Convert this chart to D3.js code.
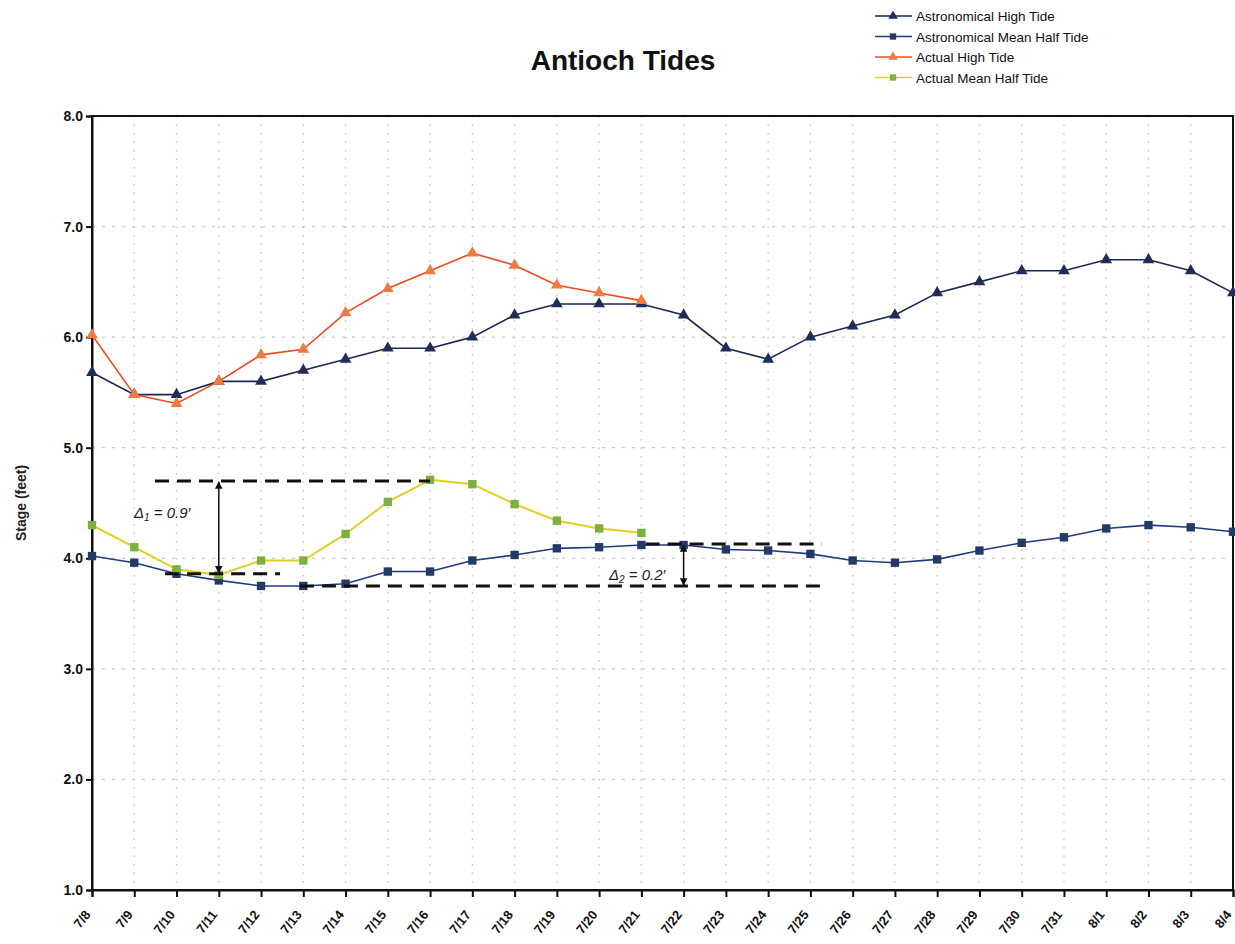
<!DOCTYPE html>
<html><head><meta charset="utf-8">
<script src="https://cdn.jsdelivr.net/npm/d3@7"></script>
<style>body{margin:0;background:#fff;font-family:Arial,"Liberation Sans",sans-serif;}</style>
</head><body>
<svg id="c" width="1235" height="944"></svg>
<script>
const dates = ["7/8","7/9","7/10","7/11","7/12","7/13","7/14","7/15","7/16","7/17","7/18","7/19","7/20","7/21","7/22","7/23","7/24","7/25","7/26","7/27","7/28","7/29","7/30","7/31","8/1","8/2","8/3","8/4"];
const astroHigh = [5.68,5.48,5.48,5.6,5.6,5.7,5.8,5.9,5.9,6.0,6.2,6.3,6.3,6.3,6.2,5.9,5.8,6.0,6.1,6.2,6.4,6.5,6.6,6.6,6.7,6.7,6.6,6.4];
const astroMean = [4.02,3.96,3.86,3.8,3.75,3.75,3.77,3.88,3.88,3.98,4.03,4.09,4.1,4.12,4.12,4.08,4.07,4.04,3.98,3.96,3.99,4.07,4.14,4.19,4.27,4.3,4.28,4.24];
const actualHigh = [6.02,5.48,5.4,5.6,5.84,5.89,6.22,6.44,6.6,6.76,6.65,6.47,6.4,6.33];
const actualMean = [4.3,4.1,3.9,3.85,3.98,3.98,4.22,4.51,4.71,4.67,4.49,4.34,4.27,4.23];
const yTicks = [1,2,3,4,5,6,7,8];
const seriesNames = ["Astronomical High Tide","Astronomical Mean Half Tide","Actual High Tide","Actual Mean Half Tide"];
// annotations: levels in feet, extents in date-index units
const delta1 = {sub:"1", text:" = 0.9\u2032", top:4.7, bottom:3.86, at:3, topFrom:1.49, topTo:8.0, botFrom:1.73, botTo:4.45};
const delta2 = {sub:"2", text:" = 0.2\u2032", top:4.13, bottom:3.75, at:14, topFrom:13.1, topTo:17.27, botFrom:4.92, botTo:17.27};

const svg = d3.select("#c");
const m = {l:92, r:1233, t:116, b:890};
const x = d3.scalePoint().domain(dates).range([m.l, m.r]);
const xi = d3.scaleLinear().domain([0, dates.length-1]).range([m.l, m.r]);
const y = d3.scaleLinear().domain([1,8]).range([m.b, m.t]);

// gridlines
const g = svg.append("g");
g.selectAll(".vg").data(dates.slice(1)).join("line")
  .attr("x1",d=>x(d)).attr("x2",d=>x(d)).attr("y1",m.t).attr("y2",m.b)
  .attr("stroke","#b8c8c0").attr("stroke-width",1.3).attr("stroke-dasharray","1.5,7");
g.selectAll(".hg").data(yTicks.slice(1,-1)).join("line")
  .attr("x1",m.l).attr("x2",m.r).attr("y1",d=>y(d)).attr("y2",d=>y(d))
  .attr("stroke","#c8d0c0").attr("stroke-width",1.3).attr("stroke-dasharray","3,7");

// frame
svg.append("rect").attr("x",m.l).attr("y",m.t).attr("width",m.r-m.l).attr("height",m.b-m.t)
  .attr("fill","none").attr("stroke","#111").attr("stroke-width",2);

// axes
const ya = svg.append("g").attr("transform",`translate(${m.l},0)`)
  .call(d3.axisLeft(y).tickValues(yTicks).tickFormat(d3.format(".1f")).tickSize(6));
ya.select(".domain").attr("stroke","#111").attr("stroke-width",2);
ya.selectAll(".tick line").attr("stroke","#111").attr("stroke-width",2);
ya.selectAll("text").attr("font-size",14).attr("font-weight","bold").attr("fill","#111").attr("font-family","Arial");

const xa = svg.append("g").attr("transform",`translate(0,${m.b})`)
  .call(d3.axisBottom(x).tickSize(7));
xa.select(".domain").attr("stroke","#111").attr("stroke-width",2);
xa.selectAll(".tick line").attr("stroke","#111").attr("stroke-width",2);
xa.selectAll("text").attr("font-size",13).attr("font-weight","bold").attr("fill","#111").attr("font-family","Arial")
  .attr("text-anchor","end").attr("x",0).attr("y",0).attr("dy","0.35em").attr("transform","translate(-5,22) rotate(-52)");

// title & y label
svg.append("text").attr("x",623).attr("y",70).attr("text-anchor","middle")
  .attr("font-size",28).attr("font-weight","bold").attr("fill","#111").text("Antioch Tides");
svg.append("text").attr("transform","translate(26,503) rotate(-90)").attr("text-anchor","middle")
  .attr("font-size",14).attr("font-weight","bold").attr("fill","#222").text("Stage (feet)");

// series
const line = d3.line().x((d,i)=>x(dates[i])).y(d=>y(d));
const cfg = [
  {data:astroHigh, line:"#1e2650", marker:"#1f2d58", shape:d3.symbolTriangle, lw:1.6},
  {data:astroMean, line:"#233a80", marker:"#243a66", shape:d3.symbolSquare, lw:1.6},
  {data:actualHigh, line:"#f04a1e", marker:"#f07a40", shape:d3.symbolTriangle, lw:1.6},
  {data:actualMean, line:"#e0d020", marker:"#7cb040", shape:d3.symbolSquare, lw:2}
];
cfg.forEach(c=>{
  svg.append("path").datum(c.data).attr("d",line).attr("fill","none").attr("stroke",c.line).attr("stroke-width",c.lw);
  svg.append("g").selectAll("path").data(c.data).join("path")
    .attr("transform",(d,i)=>`translate(${x(dates[i])},${y(d)})`)
    .attr("d",d3.symbol().type(c.shape).size(c.shape===d3.symbolSquare?70:60))
    .attr("fill",c.marker);
});

// annotations
svg.append("defs").html(`<marker id="ah" viewBox="0 0 10 10" refX="9" refY="5" markerWidth="5" markerHeight="5" orient="auto-start-reverse"><path d="M0,0L10,5L0,10z" fill="#111"/></marker>`);
function annot(a, lx, ly){
  const dash = "14,8";
  svg.append("line").attr("x1",xi(a.topFrom)).attr("x2",xi(a.topTo)).attr("y1",y(a.top)).attr("y2",y(a.top))
    .attr("stroke","#111").attr("stroke-width",3).attr("stroke-dasharray",dash);
  svg.append("line").attr("x1",xi(a.botFrom)).attr("x2",xi(a.botTo)).attr("y1",y(a.bottom)).attr("y2",y(a.bottom))
    .attr("stroke","#111").attr("stroke-width",3).attr("stroke-dasharray",dash);
  svg.append("line").attr("x1",xi(a.at)).attr("x2",xi(a.at)).attr("y1",y(a.top)+1).attr("y2",y(a.bottom)-1)
    .attr("stroke","#111").attr("stroke-width",1.5)
    .attr("marker-start","url(#ah)").attr("marker-end","url(#ah)");
  const t = svg.append("text").attr("x",lx).attr("y",ly).attr("font-size",15).attr("font-style","italic").attr("fill","#222");
  t.append("tspan").text("\u0394");
  t.append("tspan").attr("font-size",10).attr("dy",3).text(a.sub);
  t.append("tspan").attr("dy",-3).text(a.text);
}
annot(delta1, 134, 518);
annot(delta2, 609, 580);

// legend
const lg = svg.append("g");
cfg.forEach((c,i)=>{
  const ly = 16 + i*20.5;
  lg.append("line").attr("x1",875).attr("x2",912).attr("y1",ly).attr("y2",ly).attr("stroke",c.line).attr("stroke-width",1.6);
  lg.append("path").attr("transform",`translate(893,${ly})`).attr("d",d3.symbol().type(c.shape).size(40)).attr("fill",c.marker);
  lg.append("text").attr("x",916).attr("y",ly+5).attr("font-size",13.5).attr("fill","#111").text(seriesNames[i]);
});
</script>
</body></html>
